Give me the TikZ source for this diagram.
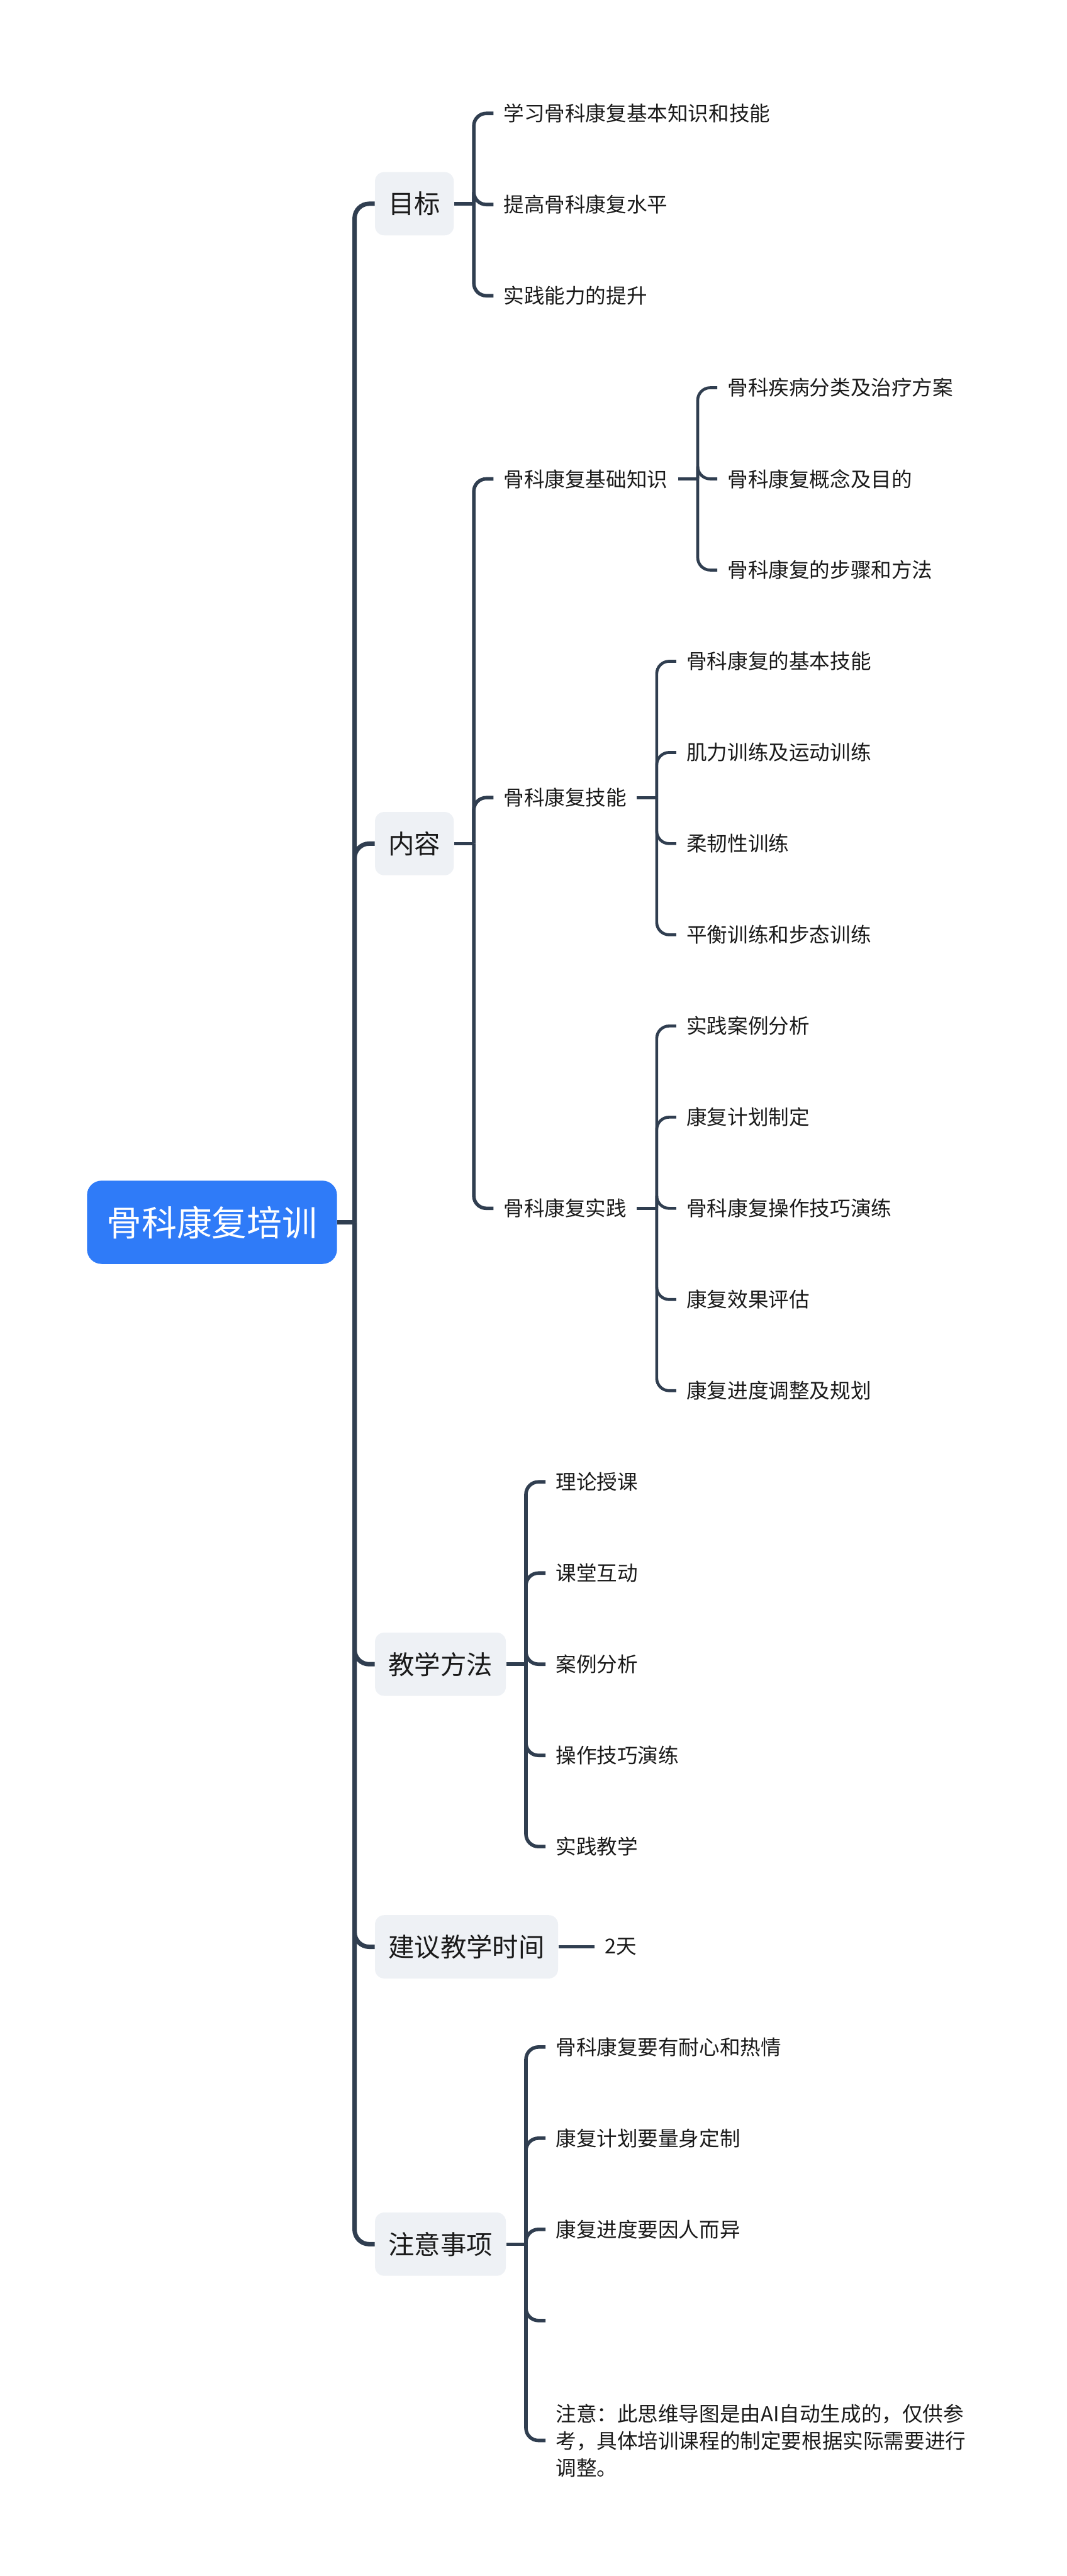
\documentclass[tikz,border=0pt]{standalone}
\usepackage{fontspec}
\setmainfont{Noto Sans CJK SC}
\usetikzlibrary{calc,positioning}
\definecolor{zhuti}{HTML}{2F7BF8}
\definecolor{huidi}{HTML}{EEF1F5}
\definecolor{xian}{HTML}{303E50}
\definecolor{wenzi}{HTML}{1A1A1A}

\begin{document}
\begin{tikzpicture}[x=0.039445cm, y=-0.039445cm,
    zhu/.style={fill=zhuti, text=white, rounded corners=0.35cm, minimum height=2.0cm,
      inner xsep=0.47cm, font=\fontsize{24pt}{28pt}\selectfont},
    fenzhi/.style={fill=huidi, text=wenzi, rounded corners=0.22cm, minimum height=1.52cm,
      inner xsep=0.32cm, anchor=west, font=\fontsize{17.8pt}{22pt}\selectfont},
    ye/.style={anchor=west, xshift=0.47cm, inner xsep=0.24cm, text=wenzi,
      font=\fontsize{14pt}{18.5pt}\selectfont},
    gan/.style={draw=xian, line width=3pt, rounded corners=0.35cm},
    zhi/.style={draw=xian, line width=2.4pt, rounded corners=0.3cm},
    mo/.style={draw=xian, line width=2pt, rounded corners=0.3cm}]
  \useasboundingbox (0,0) rectangle (649,1568);

  % root and first level
  \node[zhu] (root) at (129,744) {骨科康复培训};
  \coordinate (jz) at ($(root.east)+(10.5,0)$);
  \node[fenzhi] (mb) at (228,124) {目标};
  \node[fenzhi] (nr) at (228,513.5) {内容};
  \node[fenzhi] (ff) at (228,1013) {教学方法};
  \node[fenzhi] (sj) at (228,1185) {建议教学时间};
  \node[fenzhi] (zy) at (228,1366) {注意事项};
  \draw[gan] (root.east) -- (jz);
  \foreach \n in {mb,nr,ff,sj,zy}
    \draw[gan] (jz) |- (\n.west);

  % 目标
  \coordinate (jmb) at ($(mb.east)+(12,0)$);
  \draw[zhi] (mb.east) -- (jmb);
  \foreach \t [count=\i] in {学习骨科康复基本知识和技能, 提高骨科康复水平, 实践能力的提升} {
    \node[ye] (mb\i) at (jmb |- 0,{69+55.5*(\i-1)}) {\t};
    \draw[zhi] (jmb) |- (mb\i.west);
  }

  % 内容
  \coordinate (jnr) at ($(nr.east)+(12,0)$);
  \draw[zhi] (nr.east) -- (jnr);
  \node[ye] (jc) at (jnr |- 0,291.5) {骨科康复基础知识};
  \node[ye] (jn) at (jnr |- 0,485.5) {骨科康复技能};
  \node[ye] (sx) at (jnr |- 0,735.5) {骨科康复实践};
  \foreach \n in {jc,jn,sx}
    \draw[zhi] (jnr) |- (\n.west);

  \coordinate (jjc) at ($(jc.east)+(12,0)$);
  \draw[mo] (jc.east) -- (jjc);
  \foreach \t [count=\i] in {骨科疾病分类及治疗方案, 骨科康复概念及目的, 骨科康复的步骤和方法} {
    \node[ye] (jc\i) at (jjc |- 0,{236+55.5*(\i-1)}) {\t};
    \draw[mo] (jjc) |- (jc\i.west);
  }

  \coordinate (jjn) at ($(jn.east)+(12,0)$);
  \draw[mo] (jn.east) -- (jjn);
  \foreach \t [count=\i] in {骨科康复的基本技能, 肌力训练及运动训练, 柔韧性训练, 平衡训练和步态训练} {
    \node[ye] (jn\i) at (jjn |- 0,{402.5+55.5*(\i-1)}) {\t};
    \draw[mo] (jjn) |- (jn\i.west);
  }

  \coordinate (jsx) at ($(sx.east)+(12,0)$);
  \draw[mo] (sx.east) -- (jsx);
  \foreach \t [count=\i] in {实践案例分析, 康复计划制定, 骨科康复操作技巧演练, 康复效果评估, 康复进度调整及规划} {
    \node[ye] (sx\i) at (jsx |- 0,{624.5+55.5*(\i-1)}) {\t};
    \draw[mo] (jsx) |- (sx\i.west);
  }

  % 教学方法
  \coordinate (jff) at ($(ff.east)+(12,0)$);
  \draw[zhi] (ff.east) -- (jff);
  \foreach \t [count=\i] in {理论授课, 课堂互动, 案例分析, 操作技巧演练, 实践教学} {
    \node[ye] (ff\i) at (jff |- 0,{902+55.5*(\i-1)}) {\t};
    \draw[zhi] (jff) |- (ff\i.west);
  }

  % 建议教学时间
  \node[ye, xshift=0.4cm] (tian) at (sj.east) {2天};
  \draw[zhi] (sj.east) -- (tian.west);

  % 注意事项
  \coordinate (jzy) at ($(zy.east)+(12,0)$);
  \draw[zhi] (zy.east) -- (jzy);
  \foreach \t [count=\i] in {骨科康复要有耐心和热情, 康复计划要量身定制, 康复进度要因人而异} {
    \node[ye] (zy\i) at (jzy |- 0,{1246+55.5*(\i-1)}) {\t};
    \draw[zhi] (jzy) |- (zy\i.west);
  }
  \coordinate[xshift=0.47cm] (zy4) at (jzy |- 0,1412.5);
  \draw[zhi] (jzy) |- (zy4);
  \node[ye, align=left] (zy5) at (jzy |- 0,1485.5)
    {注意：此思维导图是由AI自动生成的，仅供参\\考，具体培训课程的制定要根据实际需要进行\\调整。};
  \draw[zhi] (jzy) |- (zy5.west);
\end{tikzpicture}
\end{document}
